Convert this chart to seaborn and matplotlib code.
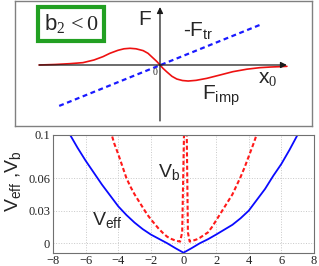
import matplotlib
matplotlib.use("Agg")
import matplotlib.pyplot as plt
import seaborn as sns
import numpy as np

# top sketch: impurity force and (minus) trap force vs x0
x0_imp = [-4.03, -3.5, -3.0, -2.57, -2.2, -1.9, -1.67, -1.4, -1.2, -1.0, -0.8, -0.56, -0.4,
          -0.22, -0.1, 0.0, 0.1, 0.22, 0.4, 0.56, 0.75, 0.94, 1.2, 1.56, 2.0, 2.43, 2.9,
          3.33, 3.7, 4.0, 4.23]
f_imp = [0.0, 0.03, 0.08, 0.14, 0.30, 0.50, 0.70, 0.88, 0.97, 1.0, 0.97, 0.86, 0.70,
         0.40, 0.20, 0.0, -0.20, -0.40, -0.68, -0.84, -0.93, -0.96, -0.92, -0.80, -0.60, -0.40, -0.25,
         -0.16, -0.12, -0.10, -0.08]
x0_tr = [-3.36, 3.33]
f_tr = [-2.45, 2.40]

# bottom panel: effective potential and barrier potential
veff_x = [-7, -6.5, -6, -5.5, -5, -4.5, -4, -3.5, -3, -2.5, -2, -1.5, -1, -0.5, 0,
          0.5, 1, 1.5, 2, 2.5, 3, 3.5, 4, 4.5, 5, 5.5, 6, 6.5, 7]
veff_y = [0.101, 0.088, 0.076, 0.065, 0.054, 0.044, 0.034, 0.026, 0.019, 0.013, 0.008, 0.004, 0.0,
          -0.0045, -0.0087, -0.0045, 0.0, 0.0037, 0.008, 0.0125, 0.017, 0.023, 0.030, 0.040, 0.050,
          0.062, 0.073, 0.086, 0.100]
vb_x = [-4.6, -4.25, -4.0, -3.75, -3.5, -3.25, -3.0, -2.75, -2.5, -2.25, -2.0, -1.75, -1.5, -1.25,
        -1.0, -0.75, -0.5, -0.21, -0.08, 0.03, 0.11, 0.2, 0.27, 0.38, 0.6, 0.8, 1.0, 1.25, 1.5,
        1.75, 2.0, 2.25, 2.5, 2.75, 3.0, 3.25, 3.5, 3.75, 4.0, 4.3, 4.6]
vb_y = [0.11, 0.092, 0.082, 0.071, 0.060, 0.052, 0.045, 0.039, 0.033, 0.027, 0.022, 0.0175, 0.013, 0.0093,
        0.006, 0.004, 0.0025, 0.0015, 0.01, 0.10, 0.13, 0.10, 0.01, 0.0015, 0.0025, 0.0035, 0.005, 0.0075, 0.010,
        0.015, 0.021, 0.027, 0.033, 0.039, 0.045, 0.053, 0.061, 0.070, 0.080, 0.092, 0.105]
x_ticks = [-8, -6, -4, -2, 0, 2, 4, 6, 8]
y_ticks = [0, 0.03, 0.06, 0.1]
y_tick_labels = ["0", "0.03", "0.06", "0.1"]

sns.set_theme(style="white")
plt.rcParams["font.family"] = ["Liberation Sans", "DejaVu Sans"]
plt.rcParams["mathtext.fontset"] = "custom"
plt.rcParams["mathtext.rm"] = "Liberation Serif"
plt.rcParams["mathtext.sf"] = "Liberation Sans"
plt.rcParams["mathtext.it"] = "Liberation Serif:italic"

W, H = 319, 266
fig = plt.figure(figsize=(W / 100, H / 100), dpi=100)

# ---- top sketch ----
ax1 = fig.add_axes([15 / W, 1 - 126 / H, 297 / W, 125 / H])
sns.lineplot(x=x0_imp, y=f_imp, ax=ax1, color="#ee1111", lw=1.2, sort=False, estimator=None)
sns.lineplot(x=x0_tr, y=f_tr, ax=ax1, color="#1a1aff", lw=1.6, sort=False, estimator=None)
ax1.lines[-1].set_dashes((2.2, 1.6))
ax1.set_xlim(-4.833, 5.067)
ax1.set_ylim(-3.653, 3.832)
ax1.set_xticks([])
ax1.set_yticks([])
for s in ax1.spines.values():
    s.set_color("#808080")
    s.set_linewidth(1.0)
arr = dict(arrowstyle="-|>", color="k", lw=0.9, mutation_scale=9, shrinkA=0, shrinkB=0)
ax1.annotate("", xy=(4.23, 0), xytext=(-4.03, 0), arrowprops=arr)
ax1.annotate("", xy=(0, 3.47), xytext=(0, -3.35), arrowprops=arr)
ax1.text(-0.73, 2.4, "F", fontsize=15, ha="left", va="baseline")
ax1.text(0.77, 1.68, r"-F$\mathsf{_{tr}}$", fontsize=15, ha="left", va="baseline")
ax1.text(3.27, -1.08, r"x$\mathrm{_{0}}$", fontsize=15, ha="left", va="baseline")
ax1.text(1.4, -2.1, r"F$\mathsf{_{imp}}$", fontsize=15, ha="left", va="baseline")
ax1.text(-0.17, -0.45, "0", fontsize=7, family="Liberation Serif", ha="center", va="center")
ax1.text(-2.96, 2.47, r"$\mathsf{b}_{2}\,\mathrm{<0}$", fontsize=16, ha="center", va="center",
         bbox=dict(boxstyle="square,pad=0.25", fc="white", ec="#22a022", lw=3))

# ---- bottom panel ----
ax2 = fig.add_axes([53 / W, 1 - 252.7 / H, 261 / W, 118.1 / H])
sns.lineplot(x=veff_x, y=veff_y, ax=ax2, color="#0a0aff", lw=1.3, sort=False, estimator=None)
sns.lineplot(x=vb_x, y=vb_y, ax=ax2, color="#ff1a1a", lw=1.5, sort=False, estimator=None)
ax2.lines[-1].set_dashes((2.0, 1.2))
ax2.set_xlim(-8, 8)
ax2.set_ylim(-0.0087, 0.1)
ax2.set_xticks(x_ticks)
ax2.set_yticks(y_ticks)
ax2.set_yticklabels(y_tick_labels)
ax2.grid(True, ls=":", color="#c8c8c8", lw=0.7)
ax2.tick_params(direction="in", length=3, width=0.6, color="#808080", pad=2,
                labelsize=9, labelcolor="#222222")
for lab in ax2.get_xticklabels() + ax2.get_yticklabels():
    lab.set_family("Liberation Serif")
for s in ax2.spines.values():
    s.set_color("#707070")
    s.set_linewidth(0.8)
ax2.set_ylabel(r"V$\mathsf{_{eff}}$ ,V$\mathsf{_b}$", fontsize=14)
ax2.yaxis.set_label_coords(-0.115, 0.607)
ax2.text(-5.61, 0.0168, r"V$\mathsf{_{eff}}$", fontsize=14, ha="left", va="baseline")
ax2.text(-1.54, 0.0613, r"V$\mathsf{_b}$", fontsize=14, ha="left", va="baseline")

fig.savefig("out.png", dpi=100)
